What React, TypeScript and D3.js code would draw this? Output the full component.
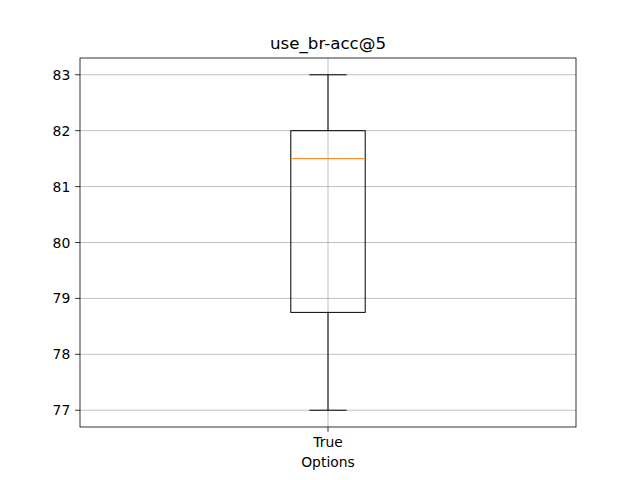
import React from "react";
import * as d3 from "d3";

const categories = ["True"];
const q1 = [78.75];
const medians = [81.5];
const q3 = [82];
const whiskLow = [77];
const whiskHigh = [83];
const yTicks = [77, 78, 79, 80, 81, 82, 83];

export default function App() {
  const W = 640, H = 480;
  const L = 80, R = 576, T = 58, B = 427;
  const x = d3.scaleLinear().domain([0.5, 1.5]).range([L, R]);
  const y = d3.scaleLinear().domain([76.7, 83.3]).range([B, T]);
  const font = "DejaVu Sans, sans-serif";
  return (
    <div style={{ position: "fixed", left: 0, top: 0 }}>
      <svg width={W} height={H} style={{ display: "block", background: "#fff" }}>
        {yTicks.map((t) => (
          <g key={t}>
            <line x1={L} x2={R} y1={y(t)} y2={y(t)} stroke="#b0b0b0" strokeWidth={0.8} />
            <line x1={L - 4.9} x2={L} y1={y(t)} y2={y(t)} stroke="#000" strokeWidth={0.8} />
            <text x={L - 9.7} y={y(t)} dy="0.36em" textAnchor="end" fontSize={13.9} fontFamily={font}>{t}</text>
          </g>
        ))}
        {categories.map((c, i) => {
          const cx = x(i + 1);
          const bw = x(1.075) - x(1);
          const cw = bw / 2;
          return (
            <g key={c}>
              <line x1={cx} x2={cx} y1={T} y2={B} stroke="#b0b0b0" strokeWidth={0.8} />
              <line x1={cx} x2={cx} y1={B} y2={B + 4.9} stroke="#000" strokeWidth={0.8} />
              <text x={cx} y={B + 20} textAnchor="middle" fontSize={13.9} fontFamily={font}>{c}</text>
              <line x1={cx} x2={cx} y1={y(q1[i])} y2={y(whiskLow[i])} stroke="#000" />
              <line x1={cx} x2={cx} y1={y(q3[i])} y2={y(whiskHigh[i])} stroke="#000" />
              <line x1={cx - cw} x2={cx + cw} y1={y(whiskLow[i])} y2={y(whiskLow[i])} stroke="#000" />
              <line x1={cx - cw} x2={cx + cw} y1={y(whiskHigh[i])} y2={y(whiskHigh[i])} stroke="#000" />
              <rect x={cx - bw} y={y(q3[i])} width={2 * bw} height={y(q1[i]) - y(q3[i])} fill="none" stroke="#000" />
              <line x1={cx - bw} x2={cx + bw} y1={y(medians[i])} y2={y(medians[i])} stroke="#ff7f0e" />
            </g>
          );
        })}
        <rect x={L} y={T} width={R - L} height={B - T} fill="none" stroke="#000" strokeWidth={0.8} />
        <text x={(L + R) / 2} y={B + 40} textAnchor="middle" fontSize={13.9} fontFamily={font}>Options</text>
        <text x={(L + R) / 2} y={T - 9} textAnchor="middle" fontSize={16.7} fontFamily={font}>use_br-acc@5</text>
      </svg>
    </div>
  );
}
